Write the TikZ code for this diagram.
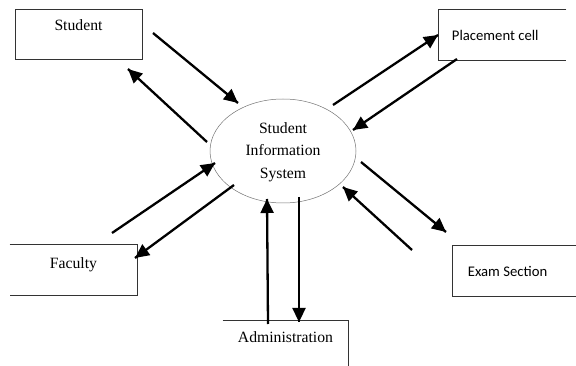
\documentclass[tikz,border=0pt]{standalone}
\usepackage{fontspec}
\setmainfont{Liberation Serif}
\newfontfamily\calibri{Carlito}
\usetikzlibrary{arrows.meta}
\usetikzlibrary{decorations.markings}
\usetikzlibrary{positioning}
\usetikzlibrary{shapes.geometric}
\tikzset{flow/.style = {line width=2.3pt,
                        decoration={markings,
                                    mark=at position 1 with {\arrow{Triangle[length=14pt, width=13pt]}}},
                        postaction={decorate}}}
\tikzset{box/.style = {draw=black!80, line width=0.6pt, inner sep=0pt,
                       minimum width=127pt, minimum height=50pt}}
\tikzset{openbox/.style = {box, draw=none}}
\tikzset{edge/.style = {draw=black!80, line width=0.6pt}}
\tikzset{serif/.style = {inner sep=0pt, font=\fontsize{15.7}{22.5}\selectfont}}
\tikzset{sans/.style = {inner sep=0pt, font=\calibri\fontsize{14.7}{18}\selectfont}}

\begin{document}
\begin{tikzpicture}[x=1pt, y=-1pt]
      \useasboundingbox (0, 0) rectangle (576, 366);

      % the system in the middle
      \node [draw=black!55, line width=0.5pt, ellipse, inner sep=0pt,
             minimum width=146pt, minimum height=104pt] (sis) at (283, 151) {};
      \node [serif, align=center] (sislbl) at (283, 152) {Student\\Information\\System};

      % the boxes round it
      \node [box] (student) at (78.5, 34.5) {};
      \node [serif, below=10.5pt of student.north] (studentlbl) {Student};

      \node [openbox] (placement) at (502.5, 35) {};
      \node [sans, right=13pt of placement.west] (placementlbl) {Placement cell};
      \draw [edge] (placement.north east) -- (placement.north west)
                   -- (placement.south west) -- (placement.south east);

      \node [openbox] (faculty) at (73.5, 270) {};
      \node [serif, yshift=5pt] (facultylbl) at (faculty) {Faculty};
      \draw [edge] (faculty.north west) -- (faculty.north east)
                   -- (faculty.south east) -- (faculty.south west);

      \node [openbox, minimum width=123pt] (exam) at (514.5, 271) {};
      \node [sans, right=15pt of exam.west] (examlbl) {Exam Section};
      \draw [edge] (exam.north east) -- (exam.north west)
                   -- (exam.south west) -- (exam.south east);

      \node [openbox, minimum width=125pt, minimum height=45pt] (admin) at (285.5, 343.5) {};
      \node [serif, below=10.5pt of admin.north] (adminlbl) {Administration};
      \draw [edge] (admin.north west) -- (admin.north east) -- (admin.south east);

      % ends of the data flows
      \coordinate (stuout) at (153, 33);   \coordinate (sisin1) at (238, 103);
      \coordinate (sisout1) at (207, 142); \coordinate (stuin) at (128, 69);
      \coordinate (sisout2) at (333, 105); \coordinate (plcin) at (438, 35);
      \coordinate (plcout) at (457, 59);   \coordinate (sisin2) at (353, 130);
      \coordinate (facout) at (112, 233);  \coordinate (sisin3) at (215, 163);
      \coordinate (sisout3) at (234, 185); \coordinate (facin) at (135, 258);
      \coordinate (sisout4) at (361, 162); \coordinate (exmin) at (446, 232);
      \coordinate (exmout) at (412, 250);  \coordinate (sisin4) at (343, 187);
      \coordinate (admout) at (268, 324);  \coordinate (sisin5) at (267, 199);
      \coordinate (sisout5) at (299, 197); \coordinate (admin in) at (299, 322);

      \draw [flow] (stuout) -- (sisin1);
      \draw [flow] (sisout1) -- (stuin);
      \draw [flow] (sisout2) -- (plcin);
      \draw [flow] (plcout) -- (sisin2);
      \draw [flow] (facout) -- (sisin3);
      \draw [flow] (sisout3) -- (facin);
      \draw [flow] (sisout4) -- (exmin);
      \draw [flow] (exmout) -- (sisin4);
      \draw [flow] (admout) -- (sisin5);
      \draw [flow] (sisout5) -- (admin in);
\end{tikzpicture}
\end{document}
